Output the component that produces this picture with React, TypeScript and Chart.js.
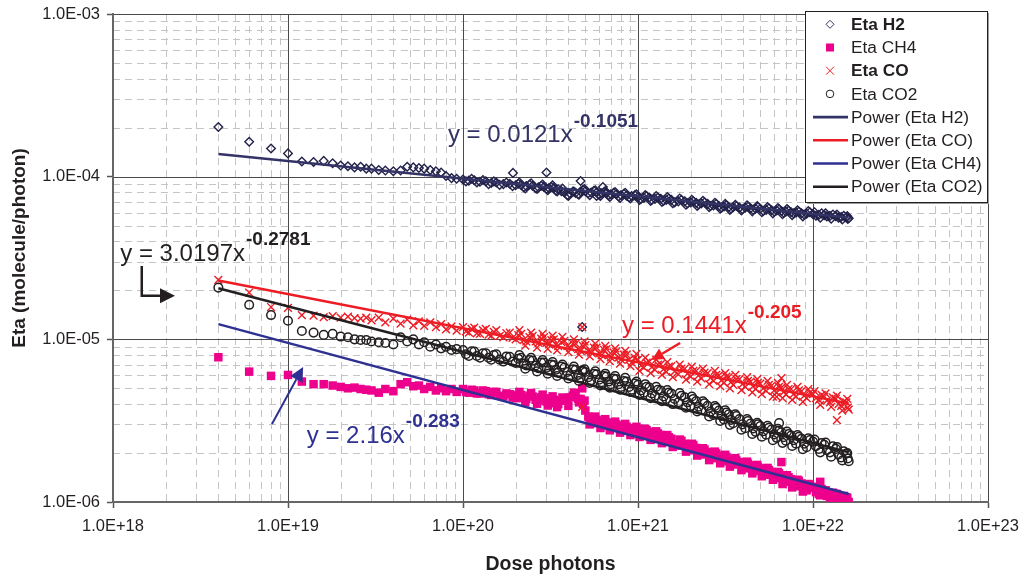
import React, { useEffect, useRef } from 'react';
import { Chart, registerables } from 'chart.js';

Chart.register(...registerables);

const FONT = "'Liberation Sans', Arial, Helvetica, sans-serif";

// ---------- data ----------
const dose = [
  4e18, 6e18, 8e18,
  1e19, 1.2e19, 1.4e19, 1.6e19, 1.8e19, 2e19, 2.2e19, 2.4e19, 2.6e19, 2.8e19, 3e19, 3.3e19, 3.6e19, 4e19, 4.4e19, 4.8e19, 5.2e19, 5.6e19, 6e19, 6.5e19, 7e19, 7.5e19, 8e19, 8.6e19, 9.2e19,
  1e20, 1.08e20, 1.16e20, 1.25e20, 1.35e20, 1.45e20, 1.55e20, 1.7e20, 1.85e20, 2e20, 2.15e20, 2.3e20, 2.5e20, 2.7e20, 2.9e20, 3.1e20, 3.3e20, 3.5e20, 3.8e20, 4.1e20, 4.4e20, 4.7e20, 5e20, 5.4e20, 5.8e20, 6.2e20, 6.6e20, 7e20, 7.5e20, 8e20, 8.6e20, 9.2e20,
  1e21, 1.08e21, 1.16e21, 1.25e21, 1.35e21, 1.45e21, 1.55e21, 1.7e21, 1.85e21, 2e21, 2.15e21, 2.3e21, 2.5e21, 2.7e21, 2.9e21, 3.1e21, 3.3e21, 3.5e21, 3.8e21, 4.1e21, 4.4e21, 4.7e21, 5e21, 5.4e21, 5.8e21, 6.2e21, 6.6e21, 7e21, 7.5e21, 8e21, 8.6e21, 9.2e21,
  1e22, 1.08e22, 1.16e22, 1.25e22, 1.35e22, 1.45e22, 1.55e22, 1.6e22,
];

const etaH2 = [
  2.02e-4, 1.64e-4, 1.49e-4,
  1.39e-4, 1.24e-4, 1.23e-4, 1.25e-4, 1.21e-4, 1.17e-4, 1.16e-4, 1.14e-4, 1.15e-4, 1.12e-4, 1.12e-4, 1.10e-4, 1.09e-4, 1.08e-4, 1.09e-4, 1.15e-4, 1.14e-4, 1.13e-4, 1.12e-4, 1.10e-4, 1.08e-4, 1.06e-4, 1.01e-4, 9.8e-5, 9.7e-5,
  9.6e-5, 9.45e-5, 9.5e-5, 9.3e-5, 9.35e-5, 9.15e-5, 9.2e-5, 9.0e-5, 9.05e-5, 8.85e-5, 8.9e-5, 8.75e-5, 8.8e-5, 8.6e-5, 8.65e-5, 8.5e-5, 8.5e-5, 8.35e-5, 8.0e-5, 7.85e-5, 7.95e-5, 8.1e-5, 8.15e-5, 8.0e-5, 8.0e-5, 7.9e-5, 7.9e-5, 7.8e-5, 7.8e-5, 7.7e-5, 7.65e-5, 7.6e-5,
  7.5e-5, 7.4e-5, 7.45e-5, 7.3e-5, 7.32e-5, 7.2e-5, 7.2e-5, 7.05e-5, 7.05e-5, 6.95e-5, 6.9e-5, 6.85e-5, 6.8e-5, 6.65e-5, 6.6e-5, 6.55e-5, 6.5e-5, 6.5e-5, 6.45e-5, 6.45e-5, 6.4e-5, 6.35e-5, 6.35e-5, 6.25e-5, 6.22e-5, 6.2e-5, 6.15e-5, 6.1e-5, 6.05e-5, 6.0e-5, 5.95e-5, 5.92e-5,
  5.88e-5, 5.82e-5, 5.8e-5, 5.74e-5, 5.72e-5, 5.65e-5, 5.62e-5, 5.55e-5,
];

const etaCH4 = [
  7.76e-6, 6.33e-6, 5.96e-6,
  6.04e-6, 5.5e-6, 5.3e-6, 5.3e-6, 5.2e-6, 5.1e-6, 5.0e-6, 5.05e-6, 4.95e-6, 4.9e-6, 4.85e-6, 4.7e-6, 4.95e-6, 4.8e-6, 5.3e-6, 5.45e-6, 5.15e-6, 5.2e-6, 4.95e-6, 5.1e-6, 4.85e-6, 5.0e-6, 4.8e-6, 4.95e-6, 4.75e-6,
  4.95e-6, 4.7e-6, 4.85e-6, 4.65e-6, 4.8e-6, 4.55e-6, 4.75e-6, 4.45e-6, 4.6e-6, 4.35e-6, 4.55e-6, 4.3e-6, 4.45e-6, 4.2e-6, 4.35e-6, 4.1e-6, 4.25e-6, 4.0e-6, 4.2e-6, 4.4e-6, 4.55e-6, 4.3e-6, 3.65e-6, 3.1e-6, 3.2e-6, 2.98e-6, 3.1e-6, 2.88e-6, 3.0e-6, 2.78e-6, 2.9e-6, 2.68e-6,
  2.82e-6, 2.6e-6, 2.7e-6, 2.48e-6, 2.58e-6, 2.36e-6, 2.45e-6, 2.22e-6, 2.28e-6, 2.08e-6, 2.15e-6, 1.96e-6, 2.03e-6, 1.86e-6, 1.93e-6, 1.78e-6, 1.84e-6, 1.7e-6, 1.76e-6, 1.61e-6, 1.68e-6, 1.55e-6, 1.61e-6, 1.47e-6, 1.53e-6, 1.4e-6, 1.45e-6, 1.33e-6, 1.38e-6, 1.25e-6, 1.3e-6, 1.18e-6,
  1.22e-6, 1.12e-6, 1.16e-6, 1.07e-6, 1.12e-6, 1.03e-6, 1.07e-6, 1.0e-6,
];

const etaCO = [
  2.32e-5, 1.94e-5, 1.58e-5,
  1.56e-5, 1.41e-5, 1.40e-5, 1.37e-5, 1.39e-5, 1.36e-5, 1.38e-5, 1.35e-5, 1.34e-5, 1.36e-5, 1.31e-5, 1.36e-5, 1.27e-5, 1.34e-5, 1.25e-5, 1.32e-5, 1.22e-5, 1.29e-5, 1.21e-5, 1.27e-5, 1.19e-5, 1.24e-5, 1.15e-5, 1.20e-5, 1.13e-5,
  1.19e-5, 1.10e-5, 1.18e-5, 1.08e-5, 1.16e-5, 1.05e-5, 1.14e-5, 1.03e-5, 1.10e-5, 1.0e-5, 1.08e-5, 9.7e-6, 1.05e-5, 9.5e-6, 1.03e-5, 9.3e-6, 1.0e-5, 9.1e-6, 9.8e-6, 8.9e-6, 9.4e-6, 8.5e-6, 9.2e-6, 8.3e-6, 8.9e-6, 8.0e-6, 8.7e-6, 7.75e-6, 8.4e-6, 7.5e-6, 8.05e-6, 7.2e-6,
  7.5e-6, 6.7e-6, 7.3e-6, 6.5e-6, 7.05e-6, 6.3e-6, 6.85e-6, 6.1e-6, 6.6e-6, 5.9e-6, 6.4e-6, 5.75e-6, 6.2e-6, 5.55e-6, 6.0e-6, 5.4e-6, 5.85e-6, 5.25e-6, 5.7e-6, 5.1e-6, 5.5e-6, 4.95e-6, 5.35e-6, 4.82e-6, 5.2e-6, 4.7e-6, 5.05e-6, 4.58e-6, 4.95e-6, 4.45e-6, 4.8e-6, 4.35e-6,
  4.6e-6, 4.25e-6, 4.45e-6, 4.1e-6, 4.3e-6, 3.9e-6, 4.1e-6, 3.7e-6,
];

const etaCO2 = [
  2.08e-5, 1.63e-5, 1.41e-5,
  1.30e-5, 1.125e-5, 1.10e-5, 1.065e-5, 1.08e-5, 1.04e-5, 1.03e-5, 1.0e-5, 9.9e-6, 9.9e-6, 9.7e-6, 9.6e-6, 9.5e-6, 9.3e-6, 1.03e-5, 9.7e-6, 1.0e-5, 9.3e-6, 9.6e-6, 9.0e-6, 9.3e-6, 8.8e-6, 9.0e-6, 8.6e-6, 8.7e-6,
  8.6e-6, 7.9e-6, 8.4e-6, 7.7e-6, 8.2e-6, 7.5e-6, 8.1e-6, 7.3e-6, 7.8e-6, 7.15e-6, 7.7e-6, 6.9e-6, 7.4e-6, 6.65e-6, 7.2e-6, 6.45e-6, 6.95e-6, 6.25e-6, 6.7e-6, 6.0e-6, 6.5e-6, 5.8e-6, 6.3e-6, 5.6e-6, 6.1e-6, 5.45e-6, 5.9e-6, 5.3e-6, 5.7e-6, 5.1e-6, 5.5e-6, 4.9e-6,
  5.25e-6, 4.7e-6, 5.05e-6, 4.5e-6, 4.85e-6, 4.3e-6, 4.65e-6, 4.1e-6, 4.4e-6, 3.9e-6, 4.18e-6, 3.68e-6, 3.9e-6, 3.43e-6, 3.65e-6, 3.22e-6, 3.46e-6, 3.05e-6, 3.23e-6, 2.84e-6, 3.04e-6, 2.7e-6, 2.93e-6, 2.59e-6, 2.79e-6, 2.48e-6, 2.68e-6, 2.38e-6, 2.56e-6, 2.28e-6, 2.45e-6, 2.17e-6,
  2.35e-6, 2.12e-6, 2.25e-6, 2.02e-6, 2.12e-6, 1.88e-6, 1.98e-6, 1.78e-6,
];

// in-between readings of the dense part of each cloud
const doseDense = [
  1.04e20, 1.12e20, 1.2e20, 1.3e20, 1.4e20, 1.5e20, 1.62e20, 1.77e20, 1.92e20, 2.07e20, 2.22e20, 2.4e20, 2.6e20, 2.8e20, 3.0e20, 3.2e20, 3.4e20, 3.65e20, 3.95e20, 4.25e20, 4.55e20, 4.85e20, 5.2e20, 5.6e20, 6.0e20, 6.4e20, 6.8e20, 7.25e20, 7.75e20, 8.3e20, 8.9e20, 9.6e20,
  1.04e21, 1.12e21, 1.2e21, 1.3e21, 1.4e21, 1.5e21, 1.62e21, 1.77e21, 1.92e21, 2.07e21, 2.22e21, 2.4e21, 2.6e21, 2.8e21, 3.0e21, 3.2e21, 3.4e21, 3.65e21, 3.95e21, 4.25e21, 4.55e21, 4.85e21, 5.2e21, 5.6e21, 6.0e21, 6.4e21, 6.8e21, 7.25e21, 7.75e21, 8.3e21, 8.9e21, 9.6e21,
  1.04e22, 1.12e22, 1.2e22, 1.3e22, 1.4e22, 1.5e22, 1.58e22,
];
const etaH2Dense = [
  9.35e-5, 9.7e-5, 9.2e-5, 9.55e-5, 9.0e-5, 9.35e-5, 8.9e-5, 9.2e-5, 8.75e-5, 9.05e-5, 8.6e-5, 8.95e-5, 8.5e-5, 8.8e-5, 8.4e-5, 8.65e-5, 8.2e-5, 8.15e-5, 7.7e-5, 8.1e-5, 7.8e-5, 8.3e-5, 7.9e-5, 8.2e-5, 7.75e-5, 8.05e-5, 7.7e-5, 7.95e-5, 7.55e-5, 7.85e-5, 7.45e-5, 7.7e-5,
  7.3e-5, 7.6e-5, 7.2e-5, 7.45e-5, 7.1e-5, 7.35e-5, 6.95e-5, 7.2e-5, 6.85e-5, 7.05e-5, 6.75e-5, 6.95e-5, 6.6e-5, 6.8e-5, 6.45e-5, 6.7e-5, 6.35e-5, 6.6e-5, 6.3e-5, 6.55e-5, 6.25e-5, 6.5e-5, 6.15e-5, 6.4e-5, 6.1e-5, 6.3e-5, 6.0e-5, 6.2e-5, 5.95e-5, 6.1e-5, 5.85e-5, 6.05e-5,
  5.75e-5, 5.95e-5, 5.7e-5, 5.85e-5, 5.6e-5, 5.75e-5, 5.5e-5,
];
const etaCODense = [
  1.12e-5, 1.16e-5, 1.09e-5, 1.14e-5, 1.07e-5, 1.11e-5, 1.05e-5, 1.09e-5, 1.02e-5, 1.06e-5, 9.9e-6, 1.03e-5, 9.7e-6, 1.01e-5, 9.5e-6, 9.9e-6, 9.3e-6, 9.6e-6, 9.1e-6, 9.4e-6, 8.7e-6, 9.1e-6, 8.5e-6, 8.9e-6, 8.2e-6, 8.6e-6, 8.0e-6, 8.3e-6, 7.75e-6, 8.05e-6, 7.5e-6, 7.7e-6,
  6.9e-6, 7.2e-6, 6.75e-6, 7.0e-6, 6.55e-6, 6.8e-6, 6.35e-6, 6.6e-6, 6.15e-6, 6.4e-6, 6.0e-6, 6.25e-6, 5.8e-6, 6.05e-6, 5.6e-6, 5.9e-6, 5.45e-6, 5.7e-6, 5.3e-6, 5.55e-6, 5.15e-6, 5.4e-6, 5.0e-6, 5.25e-6, 4.85e-6, 5.1e-6, 4.75e-6, 4.95e-6, 4.6e-6, 4.85e-6, 4.5e-6, 4.7e-6,
  4.35e-6, 4.55e-6, 4.2e-6, 4.4e-6, 4.0e-6, 4.15e-6, 3.8e-6,
];
const etaCO2Dense = [
  8.1e-6, 8.45e-6, 7.9e-6, 8.2e-6, 7.7e-6, 8.0e-6, 7.5e-6, 7.85e-6, 7.3e-6, 7.6e-6, 7.1e-6, 7.45e-6, 6.9e-6, 7.2e-6, 6.7e-6, 7.0e-6, 6.5e-6, 6.8e-6, 6.3e-6, 6.55e-6, 6.05e-6, 6.35e-6, 5.85e-6, 6.15e-6, 5.65e-6, 5.95e-6, 5.5e-6, 5.75e-6, 5.3e-6, 5.55e-6, 5.1e-6, 5.35e-6,
  4.85e-6, 5.1e-6, 4.65e-6, 4.9e-6, 4.45e-6, 4.7e-6, 4.3e-6, 4.5e-6, 4.1e-6, 4.3e-6, 3.85e-6, 4.05e-6, 3.6e-6, 3.8e-6, 3.38e-6, 3.55e-6, 3.2e-6, 3.38e-6, 3.0e-6, 3.15e-6, 2.83e-6, 3.0e-6, 2.72e-6, 2.86e-6, 2.6e-6, 2.75e-6, 2.5e-6, 2.62e-6, 2.4e-6, 2.52e-6, 2.28e-6, 2.4e-6,
  2.2e-6, 2.3e-6, 2.08e-6, 2.2e-6, 1.96e-6, 2.05e-6, 1.85e-6,
];
const etaCH4Dense = [
  4.75e-6, 4.9e-6, 4.65e-6, 4.85e-6, 4.6e-6, 4.75e-6, 4.5e-6, 4.65e-6, 4.4e-6, 4.55e-6, 4.35e-6, 4.5e-6, 4.25e-6, 4.4e-6, 4.15e-6, 4.3e-6, 4.05e-6, 4.2e-6, 4.25e-6, 4.5e-6, 4.3e-6, 4.0e-6, 3.35e-6, 3.05e-6, 3.15e-6, 2.95e-6, 3.05e-6, 2.85e-6, 2.95e-6, 2.75e-6, 2.85e-6, 2.7e-6,
  2.64e-6, 2.76e-6, 2.52e-6, 2.64e-6, 2.4e-6, 2.5e-6, 2.28e-6, 2.38e-6, 2.14e-6, 2.24e-6, 2.02e-6, 2.1e-6, 1.92e-6, 1.99e-6, 1.82e-6, 1.89e-6, 1.74e-6, 1.8e-6, 1.65e-6, 1.72e-6, 1.58e-6, 1.64e-6, 1.5e-6, 1.57e-6, 1.43e-6, 1.5e-6, 1.36e-6, 1.42e-6, 1.28e-6, 1.35e-6, 1.21e-6, 1.28e-6,
  1.15e-6, 1.2e-6, 1.09e-6, 1.14e-6, 1.04e-6, 1.09e-6, 1.0e-6,
];

// readings along the upper and lower edges of each cloud
const doseEdge = [
  2.1e20, 2.27e20, 2.45e20, 2.65e20, 2.85e20, 3.05e20, 3.25e20, 3.45e20, 3.7e20, 4.0e20, 4.3e20, 4.6e20, 4.95e20, 5.3e20, 5.7e20, 6.1e20, 6.5e20, 6.9e20, 7.4e20, 7.9e20, 8.45e20, 9.05e20, 9.8e20,
  1.02e21, 1.1e21, 1.18e21, 1.27e21, 1.37e21, 1.47e21, 1.58e21, 1.73e21, 1.88e21, 2.03e21, 2.18e21, 2.35e21, 2.55e21, 2.75e21, 2.95e21, 3.15e21, 3.35e21, 3.6e21, 3.9e21, 4.2e21, 4.5e21, 4.8e21, 5.1e21, 5.5e21, 5.9e21, 6.3e21, 6.7e21, 7.1e21, 7.6e21, 8.15e21, 8.75e21, 9.4e21,
  1.02e22, 1.1e22, 1.18e22, 1.27e22, 1.37e22, 1.47e22, 1.57e22,
];
const etaH2Edge = [
  9.2e-5, 8.45e-5, 9.1e-5, 8.4e-5, 8.95e-5, 8.25e-5, 8.85e-5, 8.1e-5, 8.45e-5, 7.6e-5, 8.1e-5, 7.75e-5, 8.4e-5, 7.7e-5, 8.25e-5, 7.6e-5, 8.15e-5, 7.5e-5, 8.05e-5, 7.4e-5, 7.95e-5, 7.35e-5, 7.8e-5,
  7.2e-5, 7.7e-5, 7.1e-5, 7.6e-5, 7.0e-5, 7.5e-5, 6.87e-5, 7.35e-5, 6.73e-5, 7.22e-5, 6.6e-5, 7.1e-5, 6.5e-5, 6.92e-5, 6.35e-5, 6.8e-5, 6.25e-5, 6.72e-5, 6.2e-5, 6.68e-5, 6.12e-5, 6.6e-5, 6.05e-5, 6.5e-5, 5.95e-5, 6.42e-5, 5.88e-5, 6.32e-5, 5.8e-5, 6.22e-5, 5.7e-5, 6.14e-5,
  6.05e-5, 5.6e-5, 5.95e-5, 5.52e-5, 5.85e-5, 5.45e-5, 5.72e-5,
];
const etaCOEdge = [
  1.14e-5, 9.15e-6, 1.1e-5, 8.9e-6, 1.08e-5, 8.75e-6, 1.055e-5, 8.55e-6, 1.035e-5, 8.35e-6, 1.0e-5, 8.05e-6, 9.7e-6, 7.85e-6, 9.4e-6, 7.55e-6, 9.1e-6, 7.35e-6, 8.8e-6, 7.1e-6, 8.5e-6, 6.85e-6, 8.15e-6,
  6.4e-6, 7.7e-6, 6.2e-6, 7.5e-6, 6.05e-6, 7.25e-6, 5.85e-6, 7.0e-6, 5.65e-6, 6.8e-6, 5.5e-6, 6.6e-6, 5.3e-6, 6.4e-6, 5.15e-6, 6.2e-6, 5.0e-6, 6.05e-6, 4.87e-6, 5.85e-6, 4.72e-6, 5.7e-6, 4.6e-6, 5.55e-6, 4.45e-6, 5.4e-6, 4.35e-6, 5.25e-6, 4.25e-6, 5.1e-6, 4.13e-6, 4.95e-6,
  4.8e-6, 3.95e-6, 4.65e-6, 3.85e-6, 4.5e-6, 3.65e-6, 4.3e-6,
];
const etaCO2Edge = [
  8.0e-6, 6.6e-6, 7.7e-6, 6.35e-6, 7.45e-6, 6.15e-6, 7.25e-6, 5.95e-6, 7.0e-6, 5.75e-6, 6.8e-6, 5.55e-6, 6.55e-6, 5.4e-6, 6.35e-6, 5.2e-6, 6.15e-6, 5.05e-6, 5.95e-6, 4.9e-6, 5.8e-6, 4.75e-6, 5.5e-6,
  4.55e-6, 5.3e-6, 4.35e-6, 5.1e-6, 4.17e-6, 4.88e-6, 4.0e-6, 4.67e-6, 3.8e-6, 4.45e-6, 3.6e-6, 4.16e-6, 3.36e-6, 3.89e-6, 3.15e-6, 3.66e-6, 2.98e-6, 3.46e-6, 2.78e-6, 3.23e-6, 2.62e-6, 3.07e-6, 2.52e-6, 2.94e-6, 2.4e-6, 2.82e-6, 2.31e-6, 2.71e-6, 2.21e-6, 2.58e-6, 2.11e-6, 2.46e-6,
  2.42e-6, 2.02e-6, 2.32e-6, 1.9e-6, 2.18e-6, 1.8e-6, 2.0e-6,
];
const etaCH4Edge = [
  4.75e-6, 4.1e-6, 4.68e-6, 4.02e-6, 4.57e-6, 3.92e-6, 4.46e-6, 3.83e-6, 4.39e-6, 3.9e-6, 4.7e-6, 4.1e-6, 4.2e-6, 3.0e-6, 3.35e-6, 2.85e-6, 3.23e-6, 2.76e-6, 3.12e-6, 2.67e-6, 3.02e-6, 2.58e-6, 2.9e-6,
  2.51e-6, 2.82e-6, 2.41e-6, 2.72e-6, 2.3e-6, 2.58e-6, 2.18e-6, 2.42e-6, 2.04e-6, 2.28e-6, 1.93e-6, 2.14e-6, 1.81e-6, 2.04e-6, 1.73e-6, 1.95e-6, 1.65e-6, 1.86e-6, 1.57e-6, 1.77e-6, 1.5e-6, 1.69e-6, 1.44e-6, 1.62e-6, 1.37e-6, 1.53e-6, 1.29e-6, 1.46e-6, 1.23e-6, 1.37e-6, 1.16e-6, 1.29e-6,
  1.24e-6, 1.1e-6, 1.18e-6, 1.05e-6, 1.12e-6, 1.0e-6, 1.06e-6,
];

// scattered outlying points
const h2OutDose = [1.93e20, 3.0e20, 4.7e20, 6.3e20, 5.8e20, 4.8e20];
const h2OutEta = [1.055e-4, 1.06e-4, 9.4e-5, 8.63e-5, 7.6e-5, 1.19e-5];
const coOutDose = [4.8e20, 4.8e20, 6.6e21, 6.2e21, 1.37e22];
const coOutEta = [1.19e-5, 3.85e-6, 5.78e-6, 4.43e-6, 3.19e-6];
const co2OutDose = [4.8e20, 6.4e21];
const co2OutEta = [6.45e-6, 3.06e-6];
const ch4OutDose = [4.8e20, 6.6e21, 1.1e22];
const ch4OutEta = [5.0e-6, 1.76e-6, 1.33e-6];

// power trend lines (end points)
const trendDose = [4e18, 1.6e22];
const trendH2 = [1.38e-4, 5.61e-5];
const trendCO = [2.3e-5, 4.04e-6];
const trendCH4 = [1.24e-5, 1.12e-6];
const trendCO2 = [2.06e-5, 2.02e-6];

const xTicks = [1e18, 1e19, 1e20, 1e21, 1e22, 1e23];
const yTicks = [1e-6, 1e-5, 1e-4, 1e-3];

const seriesNames = ['Eta H2', 'Eta CH4', 'Eta CO', 'Eta CO2'];
const trendNames = ['Power (Eta H2)', 'Power (Eta CO)', 'Power (Eta CH4)', 'Power (Eta CO2)'];

const equations = [
  { main: 'y = 0.0121x', sup: '-0.1051', x: 8.2e19, y: 1.63e-4, color: '#333366' },
  { main: 'y = 3.0197x', sup: '-0.2781', x: 1.1e18, y: 3.04e-5, color: '#231f20' },
  { main: 'y = 0.1441x', sup: '-0.205', x: 8.1e20, y: 1.09e-5, color: '#ed1c24' },
  { main: 'y = 2.16x', sup: '-0.283', x: 1.28e19, y: 2.32e-6, color: '#2e3192' },
];

const arrows = [
  { pts: [[1.46e18, 2.82e-5], [1.46e18, 1.85e-5], [2.26e18, 1.85e-5]], color: '#231f20', head: 15, width: 2.5 },
  { pts: [[8.1e18, 3.02e-6], [1.22e19, 6.76e-6]], color: '#2e3192', head: 14, width: 2 },
  { pts: [[1.74e21, 9.5e-6], [1.2e21, 7.47e-6]], color: '#ed1c24', head: 12, width: 2.5 },
];

// ---------- styles ----------
const C_H2 = '#22224a';
const C_CH4 = '#ec008c';
const C_CO = '#ed1c24';
const C_CO2 = '#231f20';
const T_H2 = '#333366';
const T_CO = '#ed1c24';
const T_CH4 = '#2e3192';
const T_CO2 = '#231f20';

const pts = (xs: number[], ys: number[]) => xs.map((x, i) => ({ x, y: ys[i] }));

const sciLabel = (v: number) => {
  const e = Math.round(Math.log10(v));
  const a = Math.abs(e);
  return '1.0E' + (e < 0 ? '-' : '+') + (a < 10 ? '0' + a : String(a));
};

function drawArrow(ctx: CanvasRenderingContext2D, p: number[][], color: string, head: number, width: number) {
  const n = p.length;
  const [tx, ty] = p[n - 1];
  const [px, py] = p[n - 2];
  const ang = Math.atan2(ty - py, tx - px);
  const bx = tx - Math.cos(ang) * head;
  const by = ty - Math.sin(ang) * head;
  ctx.save();
  ctx.strokeStyle = color;
  ctx.fillStyle = color;
  ctx.lineWidth = width;
  ctx.lineJoin = 'miter';
  ctx.beginPath();
  ctx.moveTo(p[0][0], p[0][1]);
  for (let i = 1; i < n - 1; i++) ctx.lineTo(p[i][0], p[i][1]);
  ctx.lineTo(bx, by);
  ctx.stroke();
  const hw = head * 0.5;
  ctx.beginPath();
  ctx.moveTo(tx, ty);
  ctx.lineTo(bx + Math.sin(ang) * hw, by - Math.cos(ang) * hw);
  ctx.lineTo(bx - Math.sin(ang) * hw, by + Math.cos(ang) * hw);
  ctx.closePath();
  ctx.fill();
  ctx.restore();
}

const decorPlugin = {
  id: 'decor',
  beforeDraw(chart: any) {
    const { ctx, chartArea: a, scales } = chart;
    const xs = scales.x;
    const ys = scales.y;
    ctx.save();
    ctx.fillStyle = '#ffffff';
    ctx.fillRect(0, 0, chart.width, chart.height);
    ctx.strokeStyle = '#c4c4c4';
    ctx.lineWidth = 1;
    ctx.setLineDash([7, 5]);
    for (let i = 0; i < xTicks.length - 1; i++) {
      for (let m = 2; m <= 9; m++) {
        const px = Math.round(xs.getPixelForValue(xTicks[i] * m)) + 0.5;
        ctx.beginPath();
        ctx.moveTo(px, a.top);
        ctx.lineTo(px, a.bottom);
        ctx.stroke();
      }
    }
    for (let i = 0; i < yTicks.length - 1; i++) {
      for (let m = 2; m <= 9; m++) {
        const py = Math.round(ys.getPixelForValue(yTicks[i] * m)) + 0.5;
        ctx.beginPath();
        ctx.moveTo(a.left, py);
        ctx.lineTo(a.right, py);
        ctx.stroke();
      }
    }
    ctx.setLineDash([]);
    ctx.strokeStyle = '#4a4a4a';
    ctx.lineWidth = 1;
    for (let i = 1; i < xTicks.length; i++) {
      const px = Math.round(xs.getPixelForValue(xTicks[i])) + 0.5;
      ctx.beginPath();
      ctx.moveTo(px, a.top);
      ctx.lineTo(px, a.bottom);
      ctx.stroke();
    }
    for (let i = 1; i < yTicks.length; i++) {
      const py = Math.round(ys.getPixelForValue(yTicks[i])) + 0.5;
      ctx.beginPath();
      ctx.moveTo(a.left, py);
      ctx.lineTo(a.right, py);
      ctx.stroke();
    }
    ctx.restore();
  },
  afterDraw(chart: any) {
    const { ctx, scales, chartArea: a } = chart;
    const xs = scales.x;
    const ys = scales.y;
    const P = (v: number[]) => [xs.getPixelForValue(v[0]), ys.getPixelForValue(v[1])];

    ctx.save();
    ctx.textBaseline = 'alphabetic';
    ctx.textAlign = 'left';
    equations.forEach((e) => {
      const [px, py] = P([e.x, e.y]);
      ctx.fillStyle = e.color;
      ctx.font = `24px ${FONT}`;
      ctx.fillText(e.main, px, py);
      const w = ctx.measureText(e.main).width;
      ctx.font = `bold 19px ${FONT}`;
      ctx.fillText(e.sup, px + w + 1, py - 15.5);
    });
    ctx.restore();

    arrows.forEach((ar) => drawArrow(ctx, ar.pts.map(P), ar.color, ar.head, ar.width));

    ctx.save();
    ctx.fillStyle = '#231f20';
    ctx.font = `bold 19.5px ${FONT}`;
    ctx.textAlign = 'center';
    ctx.textBaseline = 'alphabetic';
    ctx.fillText('Dose photons', (a.left + a.right) / 2, 570);
    ctx.translate(25, 248);
    ctx.rotate(-Math.PI / 2);
    ctx.font = `bold 19px ${FONT}`;
    ctx.fillText('Eta (molecule/photon)', 0, 0);
    ctx.restore();

    const L = { x: 805, y: 11, w: 182, h: 191 };
    ctx.save();
    ctx.fillStyle = '#9a9a9a';
    ctx.fillRect(L.x + 2, L.y + 2, L.w, L.h);
    ctx.fillStyle = '#ffffff';
    ctx.fillRect(L.x, L.y, L.w, L.h);
    ctx.strokeStyle = '#231f20';
    ctx.lineWidth = 1;
    ctx.strokeRect(L.x + 0.5, L.y + 0.5, L.w, L.h);
    const items = [
      { text: seriesNames[0], bold: true, kind: 'diamond', color: T_H2 },
      { text: seriesNames[1], bold: false, kind: 'square', color: C_CH4 },
      { text: seriesNames[2], bold: true, kind: 'cross', color: C_CO },
      { text: seriesNames[3], bold: false, kind: 'circle', color: C_CO2 },
      { text: trendNames[0], bold: false, kind: 'line', color: T_H2 },
      { text: trendNames[1], bold: false, kind: 'line', color: T_CO },
      { text: trendNames[2], bold: false, kind: 'line', color: T_CH4 },
      { text: trendNames[3], bold: false, kind: 'line', color: T_CO2 },
    ];
    items.forEach((it, i) => {
      const cy = L.y + 13.3 + i * 23.2;
      const cx = 830;
      ctx.strokeStyle = it.color;
      ctx.fillStyle = it.color;
      ctx.lineWidth = 1;
      if (it.kind === 'diamond') {
        ctx.beginPath();
        ctx.moveTo(cx, cy - 4);
        ctx.lineTo(cx + 4, cy);
        ctx.lineTo(cx, cy + 4);
        ctx.lineTo(cx - 4, cy);
        ctx.closePath();
        ctx.stroke();
      } else if (it.kind === 'square') {
        ctx.fillRect(cx - 4, cy - 4, 8, 8);
      } else if (it.kind === 'cross') {
        ctx.beginPath();
        ctx.moveTo(cx - 4, cy - 4);
        ctx.lineTo(cx + 4, cy + 4);
        ctx.moveTo(cx + 4, cy - 4);
        ctx.lineTo(cx - 4, cy + 4);
        ctx.stroke();
      } else if (it.kind === 'circle') {
        ctx.beginPath();
        ctx.arc(cx, cy, 3.8, 0, Math.PI * 2);
        ctx.stroke();
      } else {
        ctx.lineWidth = 2.6;
        ctx.beginPath();
        ctx.moveTo(813, cy);
        ctx.lineTo(848, cy);
        ctx.stroke();
      }
      ctx.fillStyle = '#231f20';
      ctx.font = `${it.bold ? 'bold ' : ''}17.3px ${FONT}`;
      ctx.textAlign = 'left';
      ctx.textBaseline = 'middle';
      ctx.fillText(it.text, 851, cy + 1);
    });
    ctx.restore();
  },
};

export default function App() {
  const ref = useRef<HTMLCanvasElement | null>(null);

  useEffect(() => {
    if (!ref.current) return;
    const scatterCommon = { showLine: false, pointHoverRadius: 0 };
    const trendCommon = { type: 'line' as const, showLine: true, pointRadius: 0, pointHoverRadius: 0, fill: false, tension: 0, order: 0 };
    const chart = new Chart(ref.current, {
      type: 'scatter',
      data: {
        datasets: [
          { ...trendCommon, label: trendNames[0], data: pts(trendDose, trendH2), borderColor: T_H2, borderWidth: 2.5 },
          { ...trendCommon, label: trendNames[1], data: pts(trendDose, trendCO), borderColor: T_CO, borderWidth: 2.5 },
          { ...trendCommon, label: trendNames[2], data: pts(trendDose, trendCH4), borderColor: T_CH4, borderWidth: 2.5 },
          { ...trendCommon, label: trendNames[3], data: pts(trendDose, trendCO2), borderColor: T_CO2, borderWidth: 2.5 },
          {
            ...scatterCommon, label: seriesNames[3], order: 1,
            data: [...pts(dose, etaCO2), ...pts(doseDense, etaCO2Dense), ...pts(doseEdge, etaCO2Edge), ...pts(co2OutDose, co2OutEta)],
            pointStyle: 'circle', pointRadius: 4.3, pointBorderWidth: 1.5,
            pointBorderColor: C_CO2, pointBackgroundColor: 'rgba(0,0,0,0)',
            borderColor: C_CO2, backgroundColor: 'rgba(0,0,0,0)',
          },
          {
            ...scatterCommon, label: seriesNames[2], order: 2,
            data: [...pts(dose, etaCO), ...pts(doseDense, etaCODense), ...pts(doseEdge, etaCOEdge), ...pts(coOutDose, coOutEta)],
            pointStyle: 'crossRot', pointRadius: 5.5, pointBorderWidth: 1.4,
            pointBorderColor: C_CO, pointBackgroundColor: C_CO,
            borderColor: C_CO, backgroundColor: C_CO,
          },
          {
            ...scatterCommon, label: seriesNames[1], order: 3,
            data: [...pts(dose, etaCH4), ...pts(doseDense, etaCH4Dense), ...pts(doseEdge, etaCH4Edge), ...pts(ch4OutDose, ch4OutEta)],
            pointStyle: 'rect', pointRadius: 6, pointBorderWidth: 0,
            pointBorderColor: C_CH4, pointBackgroundColor: C_CH4,
            borderColor: C_CH4, backgroundColor: C_CH4,
          },
          {
            ...scatterCommon, label: seriesNames[0], order: 4,
            data: [...pts(dose, etaH2), ...pts(doseDense, etaH2Dense), ...pts(doseEdge, etaH2Edge), ...pts(h2OutDose, h2OutEta)],
            pointStyle: 'rectRot', pointRadius: 4.3, pointBorderWidth: 1.4,
            pointBorderColor: C_H2, pointBackgroundColor: 'rgba(0,0,0,0)',
            borderColor: C_H2, backgroundColor: 'rgba(0,0,0,0)',
          },
        ] as any,
      },
      options: {
        animation: false,
        responsive: false,
        devicePixelRatio: 1,
        events: [],
        layout: { padding: { left: 0, top: 14, right: 36, bottom: 0 } },
        plugins: { legend: { display: false }, tooltip: { enabled: false } },
        scales: {
          x: {
            type: 'logarithmic',
            position: 'bottom',
            min: 1e18,
            max: 1e23,
            afterBuildTicks: (s: any) => { s.ticks = xTicks.map((v) => ({ value: v, major: true })); },
            afterFit: (s: any) => { s.height = 75; s.paddingLeft = 0; s.paddingRight = 0; },
            ticks: {
              callback: (v: any) => sciLabel(Number(v)),
              font: { family: FONT, size: 16.5 },
              color: '#231f20',
              padding: 9,
              maxRotation: 0,
              autoSkip: false,
            },
            grid: { drawOnChartArea: false, drawTicks: true, tickLength: 6, tickColor: '#555', tickWidth: 1.5 },
            border: { display: true, color: '#666', width: 2 },
          },
          y: {
            type: 'logarithmic',
            min: 1e-6,
            max: 1e-3,
            afterBuildTicks: (s: any) => { s.ticks = yTicks.map((v) => ({ value: v, major: true })); },
            afterFit: (s: any) => { s.width = 113; s.paddingTop = 0; s.paddingBottom = 0; },
            ticks: {
              callback: (v: any) => sciLabel(Number(v)),
              font: { family: FONT, size: 16.5 },
              color: '#231f20',
              padding: 7,
              autoSkip: false,
            },
            grid: { drawOnChartArea: false, drawTicks: true, tickLength: 6, tickColor: '#555', tickWidth: 1.5 },
            border: { display: true, color: '#666', width: 2 },
          },
        },
      } as any,
      plugins: [decorPlugin],
    });
    return () => chart.destroy();
  }, []);

  return (
    <div style={{ position: 'absolute', left: 0, top: 0, width: 1024, height: 577, background: '#fff' }}>
      <canvas ref={ref} width={1024} height={577} style={{ display: 'block', width: 1024, height: 577 }} />
    </div>
  );
}
